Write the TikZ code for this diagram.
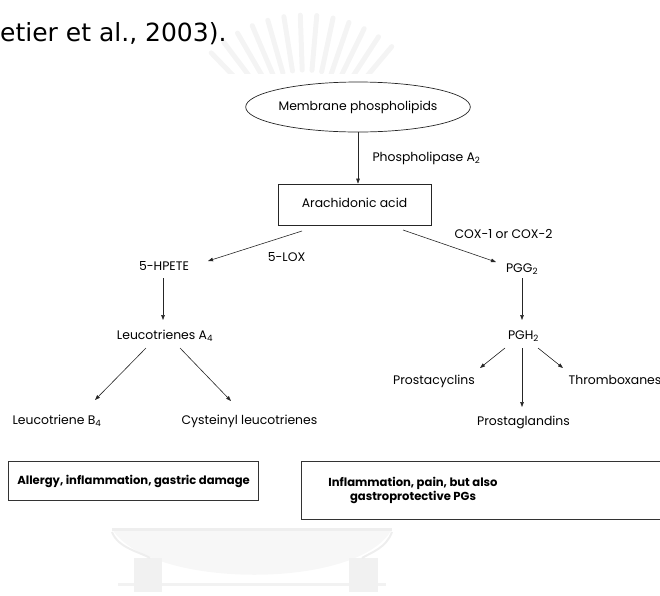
\documentclass[tikz,border=0pt]{standalone}
\usepackage{fontspec}
\setmainfont{Poppins}
\newfontfamily\capfont{DejaVu Sans}
\usetikzlibrary{arrows.meta,calc,shapes.geometric}

\begin{document}
\begin{tikzpicture}[x=1pt,y=-1pt,
  lbl/.style={font=\fontsize{12.4}{14}\selectfont, inner sep=0pt, text height=9pt, text depth=2.5pt},
  boldlbl/.style={font=\bfseries\fontsize{11.6}{14}\selectfont, align=center, inner sep=0pt},
  flow/.style={-{Triangle[length=5pt,width=3.6pt]}, line width=0.6pt, draw=black!85},
  frame/.style={draw=black!85, line width=0.7pt, inner sep=0pt},
  outcome/.style={draw=black!80, line width=1.1pt, inner sep=0pt},
  emblemray/.style={gray!9, line width=5pt, line cap=round},
]
\useasboundingbox (0,0) rectangle (660,595);
\clip (0,0) rectangle (660,595);

% faint emblem behind the page: fan of rays at the top
\begin{scope}
  \clip (200,0) rectangle (430,73);
  \foreach \a in {50,57,...,134} {
    \draw[emblemray] ({305+80*cos(\a)},{150-80*sin(\a)}) -- ({305+135*cos(\a)},{150-135*sin(\a)});
  }
\end{scope}
% faint emblem: bowl with tassels at the bottom
\fill[gray!6] (112,529) -- (392,529) .. controls (360,590) and (150,590) .. (112,529) -- cycle;
\draw[gray!13, line width=3pt] (112,529) -- (392,529);
\draw[gray!10, line width=3pt] (118,584) -- (386,584);
\fill[gray!11] (134,558) rectangle (162,592);
\fill[gray!11] (349,558) rectangle (378,592);
\draw[gray!13, line width=2pt] (112,532) .. controls (118,548) and (140,552) .. (150,558);
\draw[gray!13, line width=2pt] (392,532) .. controls (386,548) and (372,552) .. (362,558);

% citation tail above the figure
\node[font=\capfont\fontsize{25}{28}\selectfont, anchor=base west, inner sep=0pt] (cite) at (0,41) {etier et al., 2003).};

% pathway nodes
\node[frame, ellipse, minimum width=216pt, minimum height=50pt, lbl, inner sep=0pt] (mem) at (358,107) {Membrane phospholipids};
\node[frame, minimum width=153pt, minimum height=41pt, lbl] (aa) at (354.5,204.5) {Arachidonic acid};

\node[lbl] (pla) at (426.5,158) {Phospholipase A\textsubscript{2}};
\node[lbl] (lox) at (286.5,258) {5-LOX};
\node[lbl] (cox) at (503.5,235) {COX-1 or COX-2};

\node[lbl] (hpete) at (164,267) {5-HPETE};
\node[lbl] (lta) at (165,336) {Leucotrienes A\textsubscript{4}};
\node[lbl] (ltb) at (57,421) {Leucotriene B\textsubscript{4}};
\node[lbl] (cys) at (249.5,421) {Cysteinyl leucotrienes};

\node[lbl] (pgg) at (522,269) {PGG\textsubscript{2}};
\node[lbl] (pgh) at (523.5,336) {PGH\textsubscript{2}};
\node[lbl] (pcy) at (434,381) {Prostacyclins};
\node[lbl] (pgl) at (523.5,422) {Prostaglandins};
\node[lbl] (txa) at (615,381) {Thromboxanes};

% outcome boxes
\node[outcome, minimum width=250pt, minimum height=39pt, anchor=north west] (leftout) at (8,461) {};
\node[boldlbl] (lefttext) at (leftout.center) {Allergy, inflammation, gastric damage};
\node[outcome, minimum width=380pt, minimum height=58pt, anchor=north west] (rightout) at (301,461) {};
\node[boldlbl] (righttext) at (413,490) {Inflammation, pain, but also\\gastroprotective PGs};

% connectors
\draw[flow] (mem.south) -- (mem.south |- aa.north);
\draw[flow] ($(aa)+(-52.5,26.5)$) -- ($(hpete)+(44,-6)$);
\draw[flow] ($(aa)+(48.5,25.5)$) -- ($(pgg)+(-26,-7)$);
\draw[flow] ($(hpete)+(-1,11)$) -- ($(lta)+(-2,-16)$);
\draw[flow] ($(lta)+(-19,12)$) -- ($(ltb)+(38,-21)$);
\draw[flow] ($(lta)+(15,12)$) -- ($(cys)+(-18.5,-20)$);
\draw[flow] ($(pgg)+(0,9)$) -- ($(pgh)+(-1.5,-16)$);
\draw[flow] ($(pgh)+(-18.5,12)$) -- ($(pcy)+(46,-13)$);
\draw[flow] ($(pgh)+(-1.5,12)$) -- ($(pgl)+(-1.5,-15)$);
\draw[flow] ($(pgh)+(14.5,12)$) -- ($(txa)+(-52,-13)$);
\end{tikzpicture}
\end{document}
